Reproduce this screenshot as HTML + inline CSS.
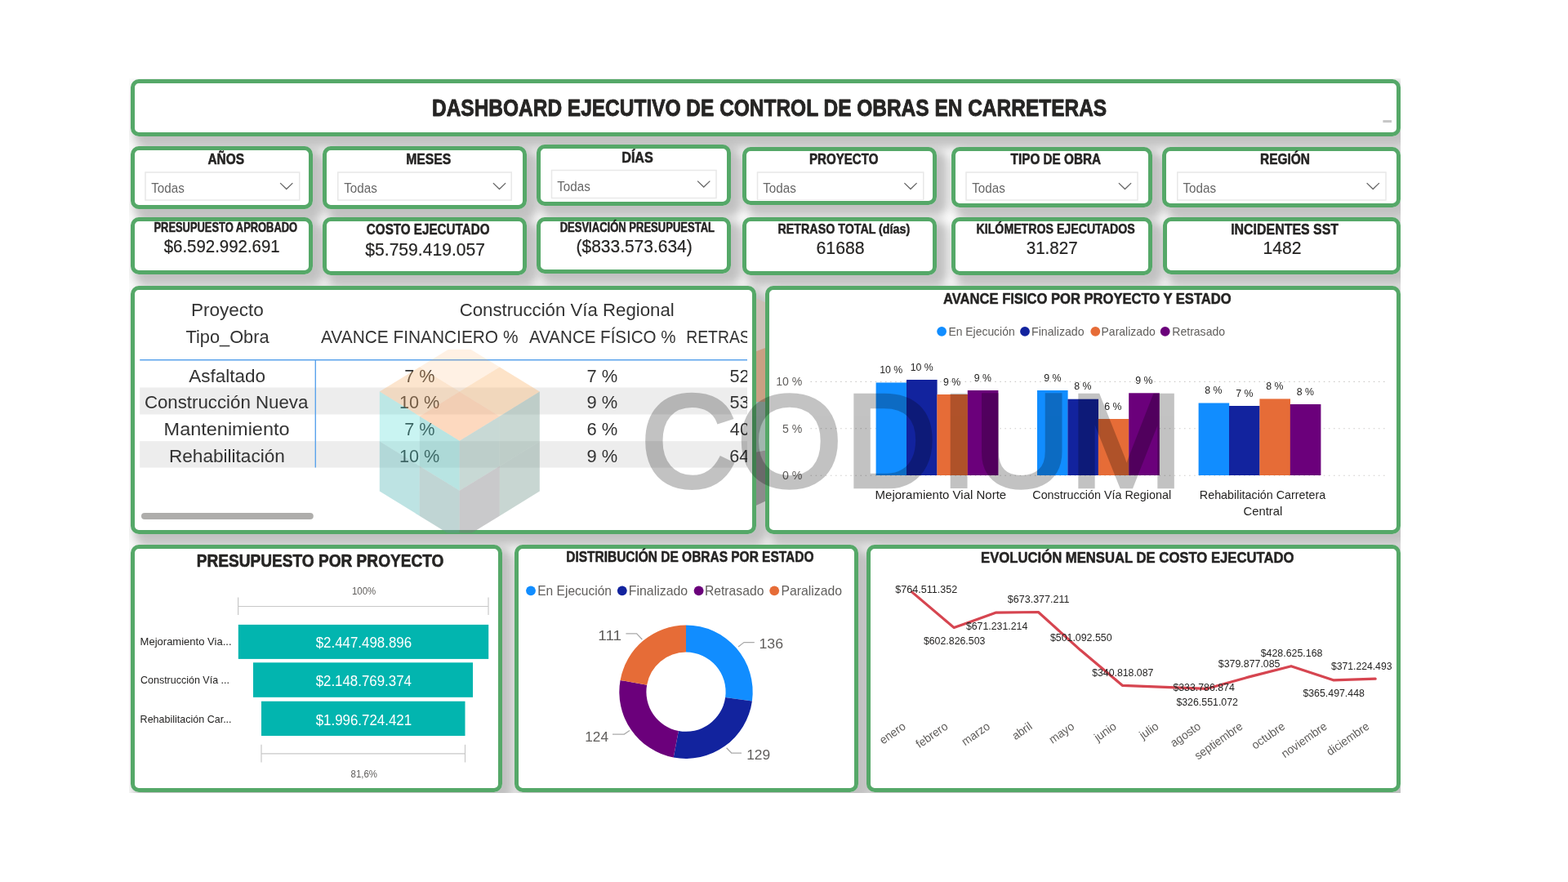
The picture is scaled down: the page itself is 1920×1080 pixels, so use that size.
<!DOCTYPE html>
<html lang="es"><head><meta charset="utf-8"><title>Dashboard Ejecutivo de Control de Obras en Carreteras</title>
<style>
html,body{margin:0;padding:0;background:#fff;}
body{width:1920px;height:1080px;position:relative;overflow:hidden;font-family:"Liberation Sans",sans-serif;}
#canvas{position:absolute;left:158.3px;top:96.1px;width:1556.9px;height:874.6px;background:#fbfbfb;overflow:hidden;}
.sh,.pn{position:absolute;box-sizing:border-box;border-radius:10px;}
.sh{box-shadow:8.6px 8.6px 12.2px 3.65px rgba(0,0,0,0.235);}
.pn{background:#fff;border:5.6px solid #55A868;}
svg{position:absolute;left:0;top:0;}
svg text{font-family:"Liberation Sans",sans-serif;white-space:pre;}
</style></head><body>
<div id="canvas">
<div class="sh" style="left:1.30px;top:0.50px;width:1555.80px;height:70.10px"></div>
<div class="sh" style="left:1.30px;top:83.00px;width:223.80px;height:76.80px"></div>
<div class="sh" style="left:236.90px;top:83.20px;width:250.30px;height:76.70px"></div>
<div class="sh" style="left:498.80px;top:81.00px;width:238.30px;height:74.90px"></div>
<div class="sh" style="left:750.30px;top:83.50px;width:238.80px;height:71.10px"></div>
<div class="sh" style="left:1006.30px;top:83.50px;width:246.80px;height:74.55px"></div>
<div class="sh" style="left:1265.05px;top:83.50px;width:292.05px;height:74.55px"></div>
<div class="sh" style="left:1.30px;top:169.50px;width:223.80px;height:70.10px"></div>
<div class="sh" style="left:236.60px;top:169.50px;width:249.80px;height:71.80px"></div>
<div class="sh" style="left:498.80px;top:169.50px;width:238.30px;height:69.80px"></div>
<div class="sh" style="left:750.30px;top:169.50px;width:238.80px;height:71.70px"></div>
<div class="sh" style="left:1006.30px;top:169.50px;width:246.80px;height:71.80px"></div>
<div class="sh" style="left:1265.30px;top:169.50px;width:291.80px;height:70.60px"></div>
<div class="sh" style="left:1.30px;top:253.50px;width:766.80px;height:304.10px"></div>
<div class="sh" style="left:778.80px;top:253.90px;width:778.30px;height:303.90px"></div>
<div class="sh" style="left:2.00px;top:570.90px;width:455.10px;height:303.30px"></div>
<div class="sh" style="left:471.30px;top:570.90px;width:421.80px;height:303.30px"></div>
<div class="sh" style="left:902.30px;top:570.90px;width:654.50px;height:303.30px"></div>
<svg width="1556.9" height="874.6" viewBox="158.3 96.1 1556.9 874.6">
<polygon points="924,364.5 940,371.5 940,425 924,431" fill="#CCC0B6"/>
<polygon points="924,431 940,425 940,492 924,492" fill="#C9A083"/>
<polygon points="924,492 940,492 940,551 924,554" fill="#A1B7AE"/>
<polygon points="924,554 940,551 940,612.5 924,620" fill="#8C8C8C"/>
</svg>
<div class="pn" style="left:1.30px;top:0.50px;width:1555.80px;height:70.10px"></div>
<div class="pn" style="left:1.30px;top:83.00px;width:223.80px;height:76.80px"></div>
<div class="pn" style="left:236.90px;top:83.20px;width:250.30px;height:76.70px"></div>
<div class="pn" style="left:498.80px;top:81.00px;width:238.30px;height:74.90px"></div>
<div class="pn" style="left:750.30px;top:83.50px;width:238.80px;height:71.10px"></div>
<div class="pn" style="left:1006.30px;top:83.50px;width:246.80px;height:74.55px"></div>
<div class="pn" style="left:1265.05px;top:83.50px;width:292.05px;height:74.55px"></div>
<div class="pn" style="left:1.30px;top:169.50px;width:223.80px;height:70.10px"></div>
<div class="pn" style="left:236.60px;top:169.50px;width:249.80px;height:71.80px"></div>
<div class="pn" style="left:498.80px;top:169.50px;width:238.30px;height:69.80px"></div>
<div class="pn" style="left:750.30px;top:169.50px;width:238.80px;height:71.70px"></div>
<div class="pn" style="left:1006.30px;top:169.50px;width:246.80px;height:71.80px"></div>
<div class="pn" style="left:1265.30px;top:169.50px;width:291.80px;height:70.60px"></div>
<div class="pn" style="left:1.30px;top:253.50px;width:766.80px;height:304.10px"></div>
<div class="pn" style="left:778.80px;top:253.90px;width:778.30px;height:303.90px"></div>
<div class="pn" style="left:2.00px;top:570.90px;width:455.10px;height:303.30px"></div>
<div class="pn" style="left:471.30px;top:570.90px;width:421.80px;height:303.30px"></div>
<div class="pn" style="left:902.30px;top:570.90px;width:654.50px;height:303.30px"></div>
</div>
<svg width="1920" height="1080" viewBox="0 0 1920 1080">
<text transform="translate(529.01 142.30) scale(0.8464 1.0000)" font-size="28.92" font-weight="bold" fill="#252423"  stroke="#252423" stroke-width="0.870" stroke-linejoin="round">DASHBOARD EJECUTIVO DE CONTROL DE OBRAS EN CARRETERAS</text>
<rect x="1693.40" y="147.10" width="10.60" height="3.00" fill="#C6C6C6" />
<clipPath id="f4clip"><rect x="920" y="200" width="220" height="45.1"/></clipPath>
<text transform="translate(254.46 200.50) scale(0.8563 1.0000)" font-size="18.02" font-weight="bold" fill="#252423"  stroke="#252423" stroke-width="0.540" stroke-linejoin="round">AÑOS</text>
<rect x="178.00" y="211.00" width="188.75" height="34.00" fill="#fff" stroke="#E8E8E8" stroke-width="1.5" />
<text transform="translate(185.20 235.60) scale(0.9169 1.0000)" font-size="16.60" font-weight="normal" fill="#666666" >Todas</text>
<polyline points="343.15,224.10 350.75,231.50 358.35,224.10" fill="none" stroke="#666" stroke-width="1.3"/>
<text transform="translate(497.23 200.50) scale(0.8731 1.0000)" font-size="18.02" font-weight="bold" fill="#252423"  stroke="#252423" stroke-width="0.535" stroke-linejoin="round">MESES</text>
<rect x="413.75" y="211.00" width="212.50" height="34.00" fill="#fff" stroke="#E8E8E8" stroke-width="1.5" />
<text transform="translate(421.20 235.60) scale(0.9169 1.0000)" font-size="16.60" font-weight="normal" fill="#666666" >Todas</text>
<polyline points="603.90,224.10 611.50,231.50 619.10,224.10" fill="none" stroke="#666" stroke-width="1.3"/>
<text transform="translate(761.20 198.90) scale(0.8984 1.0000)" font-size="18.02" font-weight="bold" fill="#252423"  stroke="#252423" stroke-width="0.528" stroke-linejoin="round">DÍAS</text>
<rect x="675.50" y="208.50" width="201.50" height="34.00" fill="#fff" stroke="#E8E8E8" stroke-width="1.5" />
<text transform="translate(682.20 233.80) scale(0.9169 1.0000)" font-size="16.60" font-weight="normal" fill="#666666" >Todas</text>
<polyline points="854.15,221.60 861.75,229.00 869.35,221.60" fill="none" stroke="#666" stroke-width="1.3"/>
<text transform="translate(991.02 200.50) scale(0.8371 1.0000)" font-size="18.02" font-weight="bold" fill="#252423"  stroke="#252423" stroke-width="0.547" stroke-linejoin="round">PROYECTO</text>
<rect x="927.50" y="211.00" width="203.25" height="34.00" fill="#fff" stroke="#E8E8E8" stroke-width="1.5" clip-path="url(#f4clip)"/>
<text transform="translate(934.20 235.60) scale(0.9169 1.0000)" font-size="16.60" font-weight="normal" fill="#666666" >Todas</text>
<polyline points="1107.40,224.10 1115.00,231.50 1122.60,224.10" fill="none" stroke="#666" stroke-width="1.3"/>
<text transform="translate(1237.60 200.50) scale(0.8494 1.0000)" font-size="18.02" font-weight="bold" fill="#252423"  stroke="#252423" stroke-width="0.543" stroke-linejoin="round">TIPO DE OBRA</text>
<rect x="1183.00" y="211.00" width="210.00" height="34.00" fill="#fff" stroke="#E8E8E8" stroke-width="1.5" />
<text transform="translate(1190.20 235.60) scale(0.9169 1.0000)" font-size="16.60" font-weight="normal" fill="#666666" >Todas</text>
<polyline points="1369.90,224.10 1377.50,231.50 1385.10,224.10" fill="none" stroke="#666" stroke-width="1.3"/>
<text transform="translate(1542.99 200.50) scale(0.8581 1.0000)" font-size="18.02" font-weight="bold" fill="#252423"  stroke="#252423" stroke-width="0.540" stroke-linejoin="round">REGIÓN</text>
<rect x="1441.75" y="211.00" width="255.25" height="34.00" fill="#fff" stroke="#E8E8E8" stroke-width="1.5" />
<text transform="translate(1448.45 235.60) scale(0.9180 1.0000)" font-size="16.60" font-weight="normal" fill="#666666" >Todas</text>
<polyline points="1673.65,224.10 1681.25,231.50 1688.85,224.10" fill="none" stroke="#666" stroke-width="1.3"/>
<text transform="translate(188.49 283.50) scale(0.8075 1.0000)" font-size="15.99" font-weight="bold" fill="#252423"  stroke="#252423" stroke-width="0.501" stroke-linejoin="round">PRESUPUESTO APROBADO</text>
<text transform="translate(200.70 309.40) scale(0.9054 1.0000)" font-size="22.57" font-weight="normal" fill="#252423" stroke="#252423" stroke-width="0.2">$6.592.992.691</text>
<text transform="translate(448.87 287.30) scale(0.8445 1.0000)" font-size="18.02" font-weight="bold" fill="#252423"  stroke="#252423" stroke-width="0.490" stroke-linejoin="round">COSTO EJECUTADO</text>
<text transform="translate(447.29 312.50) scale(0.9356 1.0000)" font-size="22.57" font-weight="normal" fill="#252423" stroke="#252423" stroke-width="0.2">$5.759.419.057</text>
<text transform="translate(685.63 283.50) scale(0.8153 1.0000)" font-size="15.99" font-weight="bold" fill="#252423"  stroke="#252423" stroke-width="0.498" stroke-linejoin="round">DESVIACIÓN PRESUPUESTAL</text>
<text transform="translate(705.49 309.40) scale(0.9296 1.0000)" font-size="22.57" font-weight="normal" fill="#252423" stroke="#252423" stroke-width="0.2">($833.573.634)</text>
<text transform="translate(952.55 286.10) scale(0.8460 1.0000)" font-size="16.86" font-weight="bold" fill="#252423"  stroke="#252423" stroke-width="0.489" stroke-linejoin="round">RETRASO TOTAL (días)</text>
<text transform="translate(999.54 311.30) scale(0.9421 1.0000)" font-size="22.57" font-weight="normal" fill="#252423" stroke="#252423" stroke-width="0.2">61688</text>
<text transform="translate(1195.55 286.10) scale(0.8405 1.0000)" font-size="16.86" font-weight="bold" fill="#252423"  stroke="#252423" stroke-width="0.491" stroke-linejoin="round">KILÓMETROS EJECUTADOS</text>
<text transform="translate(1256.68 311.30) scale(0.9137 1.0000)" font-size="22.57" font-weight="normal" fill="#252423" stroke="#252423" stroke-width="0.2">31.827</text>
<text transform="translate(1507.19 286.80) scale(0.8845 1.0000)" font-size="18.02" font-weight="bold" fill="#252423"  stroke="#252423" stroke-width="0.478" stroke-linejoin="round">INCIDENTES SST</text>
<text transform="translate(1546.41 311.30) scale(0.9388 1.0000)" font-size="22.57" font-weight="normal" fill="#252423" stroke="#252423" stroke-width="0.2">1482</text>
<rect x="171.20" y="474.50" width="743.80" height="33.00" fill="#EDEDED" />
<rect x="171.20" y="540.20" width="743.80" height="32.40" fill="#EDEDED" />
<line x1="171.20" y1="440.80" x2="915.00" y2="440.80" stroke="#5BA3EC" stroke-width="1.4" />
<line x1="386.30" y1="441.00" x2="386.30" y2="572.60" stroke="#5BA3EC" stroke-width="1.4" />
<text transform="translate(233.95 387.00) scale(0.9906 1.0000)" font-size="22.76" font-weight="normal" fill="#333333" >Proyecto</text>
<text transform="translate(227.56 419.50) scale(0.9558 1.0000)" font-size="22.76" font-weight="normal" fill="#333333" >Tipo_Obra</text>
<text transform="translate(562.64 387.00) scale(0.9769 1.0000)" font-size="22.76" font-weight="normal" fill="#333333" >Construcción Vía Regional</text>
<text transform="translate(393.00 419.50) scale(0.9165 1.0000)" font-size="22.76" font-weight="normal" fill="#333333" >AVANCE FINANCIERO %</text>
<text transform="translate(648.00 419.50) scale(0.9028 1.0000)" font-size="22.76" font-weight="normal" fill="#333333" >AVANCE FÍSICO %</text>
<clipPath id="tclip"><rect x="171.2" y="355" width="743.8" height="290"/></clipPath>
<g clip-path="url(#tclip)">
<text transform="translate(840.25 419.50) scale(0.8500 1.0000)" font-size="22.76" font-weight="normal" fill="#333333" >RETRASO</text>
<text transform="translate(893.43 467.50) scale(0.9500 1.0000)" font-size="22.76" font-weight="normal" fill="#333333" >52</text>
<text transform="translate(893.43 500.00) scale(0.9500 1.0000)" font-size="22.76" font-weight="normal" fill="#333333" >53</text>
<text transform="translate(893.87 532.60) scale(0.9500 1.0000)" font-size="22.76" font-weight="normal" fill="#333333" >40</text>
<text transform="translate(893.22 565.60) scale(0.9500 1.0000)" font-size="22.76" font-weight="normal" fill="#333333" >64</text>
</g>
<text transform="translate(231.25 467.50) scale(0.9892 1.0000)" font-size="22.76" font-weight="normal" fill="#333333" >Asfaltado</text>
<text transform="translate(176.89 500.00) scale(0.9787 1.0000)" font-size="22.76" font-weight="normal" fill="#333333" >Construcción Nueva</text>
<text transform="translate(200.62 532.60) scale(1.0317 1.0000)" font-size="22.76" font-weight="normal" fill="#333333" >Mantenimiento</text>
<text transform="translate(206.94 565.60) scale(0.9935 1.0000)" font-size="22.76" font-weight="normal" fill="#333333" >Rehabilitación</text>
<text transform="translate(495.17 467.50) scale(0.9509 1.0000)" font-size="22.76" font-weight="normal" fill="#333333" >7 %</text>
<text transform="translate(718.40 467.50) scale(0.9643 1.0000)" font-size="22.76" font-weight="normal" fill="#333333" >7 %</text>
<text transform="translate(488.88 500.00) scale(0.9515 1.0000)" font-size="22.76" font-weight="normal" fill="#333333" >10 %</text>
<text transform="translate(718.52 500.00) scale(0.9614 1.0000)" font-size="22.76" font-weight="normal" fill="#333333" >9 %</text>
<text transform="translate(495.17 532.60) scale(0.9509 1.0000)" font-size="22.76" font-weight="normal" fill="#333333" >7 %</text>
<text transform="translate(718.40 532.60) scale(0.9643 1.0000)" font-size="22.76" font-weight="normal" fill="#333333" >6 %</text>
<text transform="translate(488.88 565.60) scale(0.9515 1.0000)" font-size="22.76" font-weight="normal" fill="#333333" >10 %</text>
<text transform="translate(718.52 565.60) scale(0.9614 1.0000)" font-size="22.76" font-weight="normal" fill="#333333" >9 %</text>
<rect x="173" y="627.9" width="210.8" height="8.2" rx="4.1" fill="#AEADAB"/>
<text transform="translate(1155.04 372.00) scale(0.8638 1.0000)" font-size="19.19" font-weight="bold" fill="#252423"  stroke="#252423" stroke-width="0.538" stroke-linejoin="round">AVANCE FISICO POR PROYECTO Y ESTADO</text>
<circle cx="1153.1" cy="405.8" r="5.9" fill="#118DFF"/>
<text transform="translate(1161.49 410.60) scale(0.9790 1.0000)" font-size="14.20" font-weight="normal" fill="#605E5C" >En Ejecución</text>
<circle cx="1255" cy="405.8" r="5.9" fill="#12239E"/>
<text transform="translate(1263.07 410.60) scale(0.9972 1.0000)" font-size="14.20" font-weight="normal" fill="#605E5C" >Finalizado</text>
<circle cx="1341.3" cy="405.8" r="5.9" fill="#E66C37"/>
<text transform="translate(1348.48 410.60) scale(0.9879 1.0000)" font-size="14.20" font-weight="normal" fill="#605E5C" >Paralizado</text>
<circle cx="1426.7" cy="405.8" r="5.9" fill="#6B007B"/>
<text transform="translate(1435.28 410.60) scale(0.9901 1.0000)" font-size="14.20" font-weight="normal" fill="#605E5C" >Retrasado</text>
<line x1="992.50" y1="467.40" x2="1700.00" y2="467.40" stroke="#CDCBC9" stroke-width="1.1" stroke-dasharray="1.5 4.6"/>
<line x1="992.50" y1="524.80" x2="1700.00" y2="524.80" stroke="#CDCBC9" stroke-width="1.1" stroke-dasharray="1.5 4.6"/>
<line x1="992.50" y1="582.30" x2="1700.00" y2="582.30" stroke="#CDCBC9" stroke-width="1.1" stroke-dasharray="1.5 4.6"/>
<text transform="translate(950.14 472.20) scale(0.9725 1.0000)" font-size="14.50" font-weight="normal" fill="#605E5C" >10 %</text>
<text transform="translate(957.94 529.80) scale(0.9739 1.0000)" font-size="14.50" font-weight="normal" fill="#605E5C" >5 %</text>
<text transform="translate(957.94 586.90) scale(0.9739 1.0000)" font-size="14.50" font-weight="normal" fill="#605E5C" >0 %</text>
<rect x="1072.60" y="468.50" width="37.60" height="113.50" fill="#118DFF" />
<rect x="1110.00" y="465.00" width="37.60" height="117.00" fill="#12239E" />
<rect x="1147.40" y="483.00" width="37.60" height="99.00" fill="#E66C37" />
<rect x="1184.80" y="478.00" width="37.60" height="104.00" fill="#6B007B" />
<text transform="translate(1077.20 457.00) scale(0.9200 1.0000)" font-size="13.40" font-weight="normal" fill="#252423" >10 %</text>
<text transform="translate(1114.70 454.00) scale(0.9200 1.0000)" font-size="13.40" font-weight="normal" fill="#252423" >10 %</text>
<text transform="translate(1154.91 472.40) scale(0.9200 1.0000)" font-size="13.40" font-weight="normal" fill="#252423" >9 %</text>
<text transform="translate(1192.81 466.80) scale(0.9200 1.0000)" font-size="13.40" font-weight="normal" fill="#252423" >9 %</text>
<rect x="1270.00" y="478.00" width="37.60" height="104.00" fill="#118DFF" />
<rect x="1307.40" y="488.70" width="37.60" height="93.30" fill="#12239E" />
<rect x="1344.80" y="513.00" width="37.60" height="69.00" fill="#E66C37" />
<rect x="1382.20" y="481.30" width="37.60" height="100.70" fill="#6B007B" />
<text transform="translate(1278.31 466.50) scale(0.9200 1.0000)" font-size="13.40" font-weight="normal" fill="#252423" >9 %</text>
<text transform="translate(1315.31 476.50) scale(0.9200 1.0000)" font-size="13.40" font-weight="normal" fill="#252423" >8 %</text>
<text transform="translate(1352.27 501.50) scale(0.9200 1.0000)" font-size="13.40" font-weight="normal" fill="#252423" >6 %</text>
<text transform="translate(1390.31 469.50) scale(0.9200 1.0000)" font-size="13.40" font-weight="normal" fill="#252423" >9 %</text>
<rect x="1467.60" y="493.50" width="37.60" height="88.50" fill="#118DFF" />
<rect x="1505.00" y="497.00" width="37.60" height="85.00" fill="#12239E" />
<rect x="1542.40" y="488.40" width="37.60" height="93.60" fill="#E66C37" />
<rect x="1579.80" y="495.00" width="37.60" height="87.00" fill="#6B007B" />
<text transform="translate(1475.31 482.00) scale(0.9200 1.0000)" font-size="13.40" font-weight="normal" fill="#252423" >8 %</text>
<text transform="translate(1513.27 485.50) scale(0.9200 1.0000)" font-size="13.40" font-weight="normal" fill="#252423" >7 %</text>
<text transform="translate(1550.31 477.00) scale(0.9200 1.0000)" font-size="13.40" font-weight="normal" fill="#252423" >8 %</text>
<text transform="translate(1587.81 483.50) scale(0.9200 1.0000)" font-size="13.40" font-weight="normal" fill="#252423" >8 %</text>
<text transform="translate(1071.60 611.00) scale(1.0276 1.0000)" font-size="14.60" font-weight="normal" fill="#252423" >Mejoramiento Vial Norte</text>
<text transform="translate(1264.28 611.00) scale(0.9831 1.0000)" font-size="14.60" font-weight="normal" fill="#252423" >Construcción Vía Regional</text>
<text transform="translate(1468.85 611.00) scale(0.9813 1.0000)" font-size="14.60" font-weight="normal" fill="#252423" >Rehabilitación Carretera</text>
<text transform="translate(1522.56 631.00) scale(1.0125 1.0000)" font-size="14.60" font-weight="normal" fill="#252423" >Central</text>
<text transform="translate(240.66 694.30) scale(0.8428 1.0000)" font-size="22.67" font-weight="bold" fill="#252423"  stroke="#252423" stroke-width="0.654" stroke-linejoin="round">PRESUPUESTO POR PROYECTO</text>
<text transform="translate(430.93 728.00) scale(0.9300 1.0000)" font-size="12.30" font-weight="normal" fill="#605E5C" >100%</text>
<text transform="translate(429.53 951.80) scale(0.9300 1.0000)" font-size="12.30" font-weight="normal" fill="#605E5C" >81,6%</text>
<line x1="291.30" y1="742.50" x2="598.00" y2="742.50" stroke="#C8C8C8" stroke-width="1.2" />
<line x1="291.60" y1="731.60" x2="291.60" y2="753.00" stroke="#C8C8C8" stroke-width="1.2" />
<line x1="598.00" y1="731.60" x2="598.00" y2="753.00" stroke="#C8C8C8" stroke-width="1.2" />
<line x1="320.00" y1="922.80" x2="569.50" y2="922.80" stroke="#C8C8C8" stroke-width="1.2" />
<line x1="320.00" y1="911.80" x2="320.00" y2="933.50" stroke="#C8C8C8" stroke-width="1.2" />
<line x1="569.50" y1="911.80" x2="569.50" y2="933.50" stroke="#C8C8C8" stroke-width="1.2" />
<rect x="291.80" y="764.90" width="306.40" height="42.00" fill="#02B5AF" />
<text transform="translate(386.63 793.00) scale(0.9242 1.0000)" font-size="18.30" font-weight="normal" fill="#fff" >$2.447.498.896</text>
<text transform="translate(171.56 789.60) scale(0.9873 1.0000)" font-size="13.20" font-weight="normal" fill="#252423" >Mejoramiento Via...</text>
<rect x="310.00" y="811.30" width="269.00" height="42.50" fill="#02B5AF" />
<text transform="translate(386.63 840.40) scale(0.9229 1.0000)" font-size="18.30" font-weight="normal" fill="#fff" >$2.148.769.374</text>
<text transform="translate(171.98 837.00) scale(0.9469 1.0000)" font-size="13.20" font-weight="normal" fill="#252423" >Construcción Vía ...</text>
<rect x="320.00" y="858.70" width="249.50" height="42.30" fill="#02B5AF" />
<text transform="translate(386.63 887.80) scale(0.9249 1.0000)" font-size="18.30" font-weight="normal" fill="#fff" >$1.996.724.421</text>
<text transform="translate(171.60 884.60) scale(0.9479 1.0000)" font-size="13.20" font-weight="normal" fill="#252423" >Rehabilitación Car...</text>
<text transform="translate(693.24 688.20) scale(0.8600 1.0000)" font-size="18.02" font-weight="bold" fill="#252423"  stroke="#252423" stroke-width="0.539" stroke-linejoin="round">DISTRIBUCIÓN DE OBRAS POR ESTADO</text>
<circle cx="650" cy="723.3" r="5.9" fill="#118DFF"/>
<text transform="translate(658.25 728.80) scale(0.9732 1.0000)" font-size="16.00" font-weight="normal" fill="#605E5C" >En Ejecución</text>
<circle cx="761.8" cy="723.3" r="5.9" fill="#12239E"/>
<text transform="translate(769.73 728.80) scale(0.9949 1.0000)" font-size="16.00" font-weight="normal" fill="#605E5C" >Finalizado</text>
<circle cx="855.6" cy="723.3" r="5.9" fill="#6B007B"/>
<text transform="translate(862.94 728.80) scale(0.9816 1.0000)" font-size="16.00" font-weight="normal" fill="#605E5C" >Retrasado</text>
<circle cx="948.2" cy="723.3" r="5.9" fill="#E66C37"/>
<text transform="translate(956.44 728.80) scale(0.9867 1.0000)" font-size="16.00" font-weight="normal" fill="#605E5C" >Paralizado</text>
<path d="M840.00,765.50 A81.7,81.7 0 0 1 920.92,858.46 L888.14,853.90 A48.6,48.6 0 0 0 840.00,798.60 Z" fill="#118DFF"/>
<path d="M920.92,858.46 A81.7,81.7 0 0 1 824.69,927.45 L830.89,894.94 A48.6,48.6 0 0 0 888.14,853.90 Z" fill="#12239E"/>
<path d="M824.69,927.45 A81.7,81.7 0 0 1 759.56,832.90 L792.15,838.69 A48.6,48.6 0 0 0 830.89,894.94 Z" fill="#6B007B"/>
<path d="M759.56,832.90 A81.7,81.7 0 0 1 840.00,765.50 L840.00,798.60 A48.6,48.6 0 0 0 792.15,838.69 Z" fill="#E66C37"/>
<text transform="translate(929.47 793.60) scale(1.0197 1.0000)" font-size="17.40" font-weight="normal" fill="#605E5C" >136</text>
<polyline points="904.0,792.0 911.0,786.6 923.8,786.6" fill="none" stroke="#A9A9A9" stroke-width="1.25"/>
<text transform="translate(914.19 929.60) scale(1.0006 1.0000)" font-size="17.40" font-weight="normal" fill="#605E5C" >129</text>
<polyline points="889.6,915.8 895.7,922.0 908.0,922.0" fill="none" stroke="#A9A9A9" stroke-width="1.25"/>
<text transform="translate(716.21 907.60) scale(0.9910 1.0000)" font-size="17.40" font-weight="normal" fill="#605E5C" >124</text>
<polyline points="771.0,894.4 764.3,899.0 750.0,899.0" fill="none" stroke="#A9A9A9" stroke-width="1.25"/>
<text transform="translate(732.28 783.80) scale(1.0920 1.0000)" font-size="17.40" font-weight="normal" fill="#605E5C" >111</text>
<polyline points="786.3,783.0 779.6,775.9 766.4,775.9" fill="none" stroke="#A9A9A9" stroke-width="1.25"/>
<text transform="translate(1201.07 689.40) scale(0.8692 1.0000)" font-size="19.19" font-weight="bold" fill="#252423"  stroke="#252423" stroke-width="0.536" stroke-linejoin="round">EVOLUCIÓN MENSUAL DE COSTO EJECUTADO</text>
<polyline points="1116.6,724.9 1168.2,768.6 1219.8,750.1 1271.4,749.5 1323.0,796.1 1374.6,839.4 1426.2,841.3 1477.8,843.3 1529.4,828.9 1581.0,815.7 1632.6,832.8 1684.2,831.2" fill="none" stroke="#D64550" stroke-width="3.2" stroke-linejoin="round" stroke-linecap="round"/>
<text transform="translate(1096.37 725.50) scale(0.9980 1.0000)" font-size="12.60" font-weight="normal" fill="#252423" >$764.511.352</text>
<text transform="translate(1130.88 789.00) scale(0.9801 1.0000)" font-size="12.60" font-weight="normal" fill="#252423" >$602.826.503</text>
<text transform="translate(1182.88 771.00) scale(0.9785 1.0000)" font-size="12.60" font-weight="normal" fill="#252423" >$671.231.214</text>
<text transform="translate(1233.87 738.00) scale(0.9932 1.0000)" font-size="12.60" font-weight="normal" fill="#252423" >$673.377.211</text>
<text transform="translate(1285.88 784.80) scale(0.9832 1.0000)" font-size="12.60" font-weight="normal" fill="#252423" >$501.092.550</text>
<text transform="translate(1337.18 828.20) scale(0.9765 1.0000)" font-size="12.60" font-weight="normal" fill="#252423" >$340.818.087</text>
<text transform="translate(1436.38 845.60) scale(0.9785 1.0000)" font-size="12.60" font-weight="normal" fill="#252423" >$333.786.874</text>
<text transform="translate(1440.38 863.70) scale(0.9817 1.0000)" font-size="12.60" font-weight="normal" fill="#252423" >$326.551.072</text>
<text transform="translate(1491.78 817.20) scale(0.9827 1.0000)" font-size="12.60" font-weight="normal" fill="#252423" >$379.877.085</text>
<text transform="translate(1543.68 804.40) scale(0.9840 1.0000)" font-size="12.60" font-weight="normal" fill="#252423" >$428.625.168</text>
<text transform="translate(1595.38 853.00) scale(0.9801 1.0000)" font-size="12.60" font-weight="normal" fill="#252423" >$365.497.448</text>
<text transform="translate(1629.88 819.70) scale(0.9683 1.0000)" font-size="12.60" font-weight="normal" fill="#252423" >$371.224.493</text>
<text transform="translate(1110.10 891.50) rotate(-35) scale(0.96 1)" font-size="14.4" fill="#605E5C" text-anchor="end">enero</text>
<text transform="translate(1161.70 891.50) rotate(-35) scale(0.96 1)" font-size="14.4" fill="#605E5C" text-anchor="end">febrero</text>
<text transform="translate(1213.30 891.50) rotate(-35) scale(0.96 1)" font-size="14.4" fill="#605E5C" text-anchor="end">marzo</text>
<text transform="translate(1264.90 891.50) rotate(-35) scale(0.96 1)" font-size="14.4" fill="#605E5C" text-anchor="end">abril</text>
<text transform="translate(1316.50 891.50) rotate(-35) scale(0.96 1)" font-size="14.4" fill="#605E5C" text-anchor="end">mayo</text>
<text transform="translate(1368.10 891.50) rotate(-35) scale(0.96 1)" font-size="14.4" fill="#605E5C" text-anchor="end">junio</text>
<text transform="translate(1419.70 891.50) rotate(-35) scale(0.96 1)" font-size="14.4" fill="#605E5C" text-anchor="end">julio</text>
<text transform="translate(1471.30 891.50) rotate(-35) scale(0.96 1)" font-size="14.4" fill="#605E5C" text-anchor="end">agosto</text>
<text transform="translate(1522.90 891.50) rotate(-35) scale(0.96 1)" font-size="14.4" fill="#605E5C" text-anchor="end">septiembre</text>
<text transform="translate(1574.50 891.50) rotate(-35) scale(0.96 1)" font-size="14.4" fill="#605E5C" text-anchor="end">octubre</text>
<text transform="translate(1626.10 891.50) rotate(-35) scale(0.96 1)" font-size="14.4" fill="#605E5C" text-anchor="end">noviembre</text>
<text transform="translate(1677.70 891.50) rotate(-35) scale(0.96 1)" font-size="14.4" fill="#605E5C" text-anchor="end">diciembre</text>
<clipPath id="wmclip"><rect x="440" y="428" width="1020" height="224.6" rx="6"/></clipPath>
<g clip-path="url(#wmclip)">
<polygon points="562.7,419.4 611.8,449.5 562.7,479.6 513.8,449.5" fill="rgb(255,162,75)" fill-opacity="0.15"/>
<polygon points="611.8,449.5 660.8,479.6 611.8,509.7 562.7,479.6" fill="rgb(249,177,102)" fill-opacity="0.36"/>
<polygon points="513.8,449.5 562.7,479.6 513.8,509.7 464.8,479.6" fill="rgb(246,176,107)" fill-opacity="0.33"/>
<polygon points="562.7,479.6 611.8,509.7 562.7,539.8 513.8,509.7" fill="rgb(250,165,103)" fill-opacity="0.42"/>
<polygon points="464.8,479.6 513.8,509.7 513.8,570.7 464.8,540.6" fill="rgb(75,218,212)" fill-opacity="0.3"/>
<polygon points="513.8,509.7 562.7,539.8 562.7,600.8 513.8,570.7" fill="rgb(78,188,182)" fill-opacity="0.4"/>
<polygon points="464.8,540.6 513.8,570.7 513.8,631.7 464.8,601.6" fill="rgb(81,181,181)" fill-opacity="0.38"/>
<polygon points="513.8,570.7 562.7,600.8 562.7,661.8 513.8,631.7" fill="rgb(98,150,148)" fill-opacity="0.4"/>
<polygon points="562.7,539.8 611.8,509.7 611.8,570.7 562.7,600.8" fill="rgb(118,160,150)" fill-opacity="0.4"/>
<polygon points="611.8,509.7 660.8,479.6 660.8,540.6 611.8,570.7" fill="rgb(120,158,145)" fill-opacity="0.4"/>
<polygon points="562.7,600.8 611.8,570.7 611.8,631.7 562.7,661.8" fill="rgb(120,120,125)" fill-opacity="0.4"/>
<polygon points="611.8,570.7 660.8,540.6 660.8,601.6 611.8,631.7" fill="rgb(118,152,142)" fill-opacity="0.4"/>
<text transform="translate(784.93 594.81) scale(1.6142 1.5873)" font-size="100" font-weight="normal" fill="#000" stroke="#000" stroke-width="3.75" stroke-linejoin="miter" opacity="0.235">C</text><text transform="translate(902.83 595.06) scale(1.6496 1.5944)" font-size="100" font-weight="normal" fill="#000" stroke="#000" stroke-width="3.39" stroke-linejoin="miter" opacity="0.235">O</text><text transform="translate(1036.08 595.15) scale(1.5210 1.6014)" font-size="100" font-weight="normal" fill="#000" stroke="#000" stroke-width="4.16" stroke-linejoin="miter" opacity="0.235">D</text><text transform="translate(1154.09 598.40) scale(1.4483 1.6957)" font-size="100" font-weight="bold" fill="#000"  opacity="0.235">I</text><text transform="translate(1192.34 594.99) scale(1.6351 1.6057)" font-size="100" font-weight="normal" fill="#000" stroke="#000" stroke-width="3.46" stroke-linejoin="miter" opacity="0.235">U</text><text transform="translate(1309.98 595.15) scale(1.6582 1.6014)" font-size="100" font-weight="normal" fill="#000" stroke="#000" stroke-width="3.99" stroke-linejoin="miter" opacity="0.235">M</text>
</g>
</svg>
</body></html>
